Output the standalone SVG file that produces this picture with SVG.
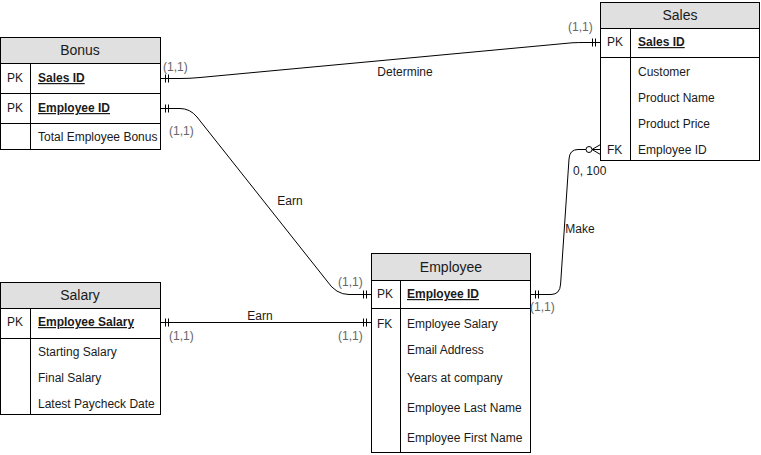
<svg xmlns="http://www.w3.org/2000/svg" width="761" height="455" viewBox="0 0 761 455">
<style>
.box{fill:#ffffff;stroke:#000000;stroke-width:1}
.hdr{fill:#e0e0e0;stroke:#000000;stroke-width:1}
.ln{stroke:#000000;stroke-width:1;fill:none}
.t{font-family:"Liberation Sans",Arial,sans-serif;font-size:12px;fill:#1a1a1a}
.h{font-family:"Liberation Sans",Arial,sans-serif;font-size:14px;fill:#1a1a1a;text-anchor:middle}
.k{font-weight:bold;text-decoration:underline}
.c{font-family:"Liberation Sans",Arial,sans-serif;font-size:12px;fill:#666666}
.l{font-family:"Liberation Sans",Arial,sans-serif;font-size:12px;fill:#1a1a1a;text-anchor:middle}
.e{fill:none;stroke:#000000;stroke-width:1}
.m{stroke:#000000;stroke-width:1}
</style>
<rect width="761" height="455" fill="#ffffff"/>

<g id="bonus">
<rect class="hdr" x="0.5" y="37.5" width="160" height="26"/>
<rect class="box" x="0.5" y="63.5" width="160" height="86"/>
<line class="ln" x1="0.5" y1="93.5" x2="160.5" y2="93.5"/>
<line class="ln" x1="0.5" y1="123.5" x2="160.5" y2="123.5"/>
<line class="ln" x1="30.5" y1="63.5" x2="30.5" y2="149.5"/>
<text class="h" x="80" y="55">Bonus</text>
<text class="t" x="7" y="82">PK</text>
<text class="t k" x="38" y="82">Sales ID</text>
<text class="t" x="7" y="112">PK</text>
<text class="t k" x="38" y="112">Employee ID</text>
<text class="t" x="38" y="141">Total Employee Bonus</text>
</g>

<g id="sales">
<rect class="hdr" x="600.5" y="2.5" width="159" height="26"/>
<rect class="box" x="600.5" y="28.5" width="159" height="132"/>
<line class="ln" x1="600.5" y1="57.5" x2="759.5" y2="57.5"/>
<line class="ln" x1="630.5" y1="28.5" x2="630.5" y2="160.5"/>
<text class="h" x="680" y="20">Sales</text>
<text class="t" x="607" y="46">PK</text>
<text class="t k" x="638" y="46">Sales ID</text>
<text class="t" x="638" y="76">Customer</text>
<text class="t" x="638" y="102">Product Name</text>
<text class="t" x="638" y="128">Product Price</text>
<text class="t" x="607" y="154">FK</text>
<text class="t" x="638" y="154">Employee ID</text>
</g>

<g id="salary">
<rect class="hdr" x="0.5" y="282.5" width="160" height="26"/>
<rect class="box" x="0.5" y="308.5" width="160" height="106"/>
<line class="ln" x1="0.5" y1="338.5" x2="160.5" y2="338.5"/>
<line class="ln" x1="30.5" y1="308.5" x2="30.5" y2="414.5"/>
<text class="h" x="80" y="300">Salary</text>
<text class="t" x="7" y="326">PK</text>
<text class="t k" x="38" y="326">Employee Salary</text>
<text class="t" x="38" y="356">Starting Salary</text>
<text class="t" x="38" y="382">Final Salary</text>
<text class="t" x="38" y="408">Latest Paycheck Date</text>
</g>

<g id="employee">
<rect class="hdr" x="371.5" y="253.5" width="159" height="27"/>
<rect class="box" x="371.5" y="280.5" width="159" height="172"/>
<line class="ln" x1="371.5" y1="308.5" x2="530.5" y2="308.5"/>
<line class="ln" x1="400.5" y1="280.5" x2="400.5" y2="452.5"/>
<text class="h" x="451" y="272">Employee</text>
<text class="t" x="377" y="298">PK</text>
<text class="t k" x="407" y="298">Employee ID</text>
<text class="t" x="377" y="328">FK</text>
<text class="t" x="407" y="328">Employee Salary</text>
<text class="t" x="407" y="354">Email Address</text>
<text class="t" x="407" y="382">Years at company</text>
<text class="t" x="407" y="412">Employee Last Name</text>
<text class="t" x="407" y="442">Employee First Name</text>
</g>

<g id="connectors">
<!-- Bonus Sales ID to Sales PK -->
<path class="e" d="M160.5,78.5 L180,78.5 Q190,78.5 200,77.5 L572,42.8 Q578,42.5 585,42.5 L600.5,42.5"/>
<line class="m" x1="165.5" y1="74.5" x2="165.5" y2="82.5"/>
<line class="m" x1="168.5" y1="74.5" x2="168.5" y2="82.5"/>
<line class="m" x1="592.5" y1="38.5" x2="592.5" y2="46.5"/>
<line class="m" x1="595.5" y1="38.5" x2="595.5" y2="46.5"/>
<text class="c" x="163" y="71">(1,1)</text>
<text class="c" x="568" y="31">(1,1)</text>
<text class="l" x="405" y="76">Determine</text>

<!-- Bonus Employee ID to Employee PK -->
<path class="e" d="M160.5,108.5 L180,108.5 Q190,108.5 197,117 L327,281 Q336,294.5 349,294.5 L371.5,294.5"/>
<line class="m" x1="165.5" y1="104.5" x2="165.5" y2="112.5"/>
<line class="m" x1="168.5" y1="104.5" x2="168.5" y2="112.5"/>
<line class="m" x1="363.5" y1="290.5" x2="363.5" y2="298.5"/>
<line class="m" x1="366.5" y1="290.5" x2="366.5" y2="298.5"/>
<text class="c" x="169" y="135">(1,1)</text>
<text class="c" x="338" y="286">(1,1)</text>
<text class="l" x="290" y="205">Earn</text>

<!-- Salary PK to Employee FK -->
<path class="e" d="M160.5,322.5 L371.5,322.5"/>
<line class="m" x1="165.5" y1="318.5" x2="165.5" y2="326.5"/>
<line class="m" x1="168.5" y1="318.5" x2="168.5" y2="326.5"/>
<line class="m" x1="363.5" y1="318.5" x2="363.5" y2="326.5"/>
<line class="m" x1="366.5" y1="318.5" x2="366.5" y2="326.5"/>
<text class="c" x="169" y="340">(1,1)</text>
<text class="c" x="338" y="340">(1,1)</text>
<text class="l" x="260" y="320">Earn</text>

<!-- Employee PK to Sales FK -->
<path class="e" d="M530.5,294.5 L551,294.5 Q560,294.5 560.6,284 L569,159 Q569.6,149.5 578,149.5 L586,149.5"/>
<circle class="e" cx="589" cy="149.5" r="3"/>
<path class="e" d="M592,149.5 L600.5,144.5 M592,149.5 L600.5,154.5 M592,149.5 L600.5,149.5"/>
<line class="m" x1="535.5" y1="290.5" x2="535.5" y2="298.5"/>
<line class="m" x1="538.5" y1="290.5" x2="538.5" y2="298.5"/>
<text class="c" x="530" y="311">(1,1)</text>
<text class="t" x="573" y="175">0, 100</text>
<text class="l" x="580" y="233">Make</text>
</g>
</svg>
